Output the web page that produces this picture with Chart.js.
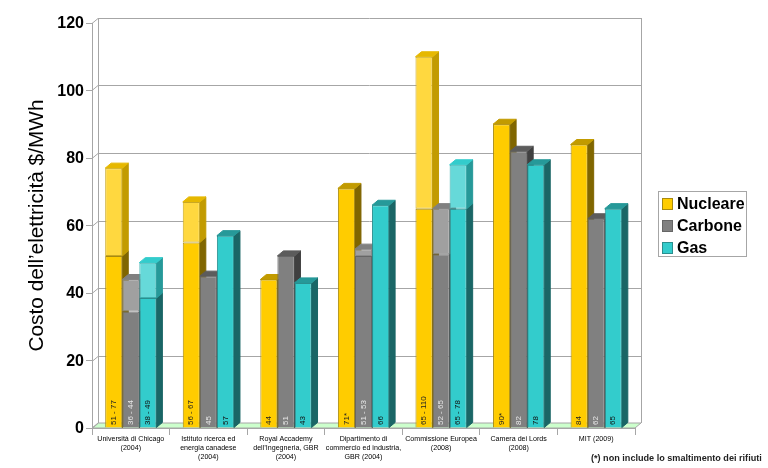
<!DOCTYPE html>
<html>
<head>
<meta charset="utf-8">
<style>
  html, body { margin: 0; padding: 0; background: #fff; }
  canvas { display: block; }
</style>
<script src="https://cdn.jsdelivr.net/npm/chart.js"></script>
</head>
<body>
<canvas id="costChart" width="768" height="468"></canvas>
<script>
var categories = [
    ['Università di Chicago', '(2004)'],
    ['Istituto ricerca ed', 'energia canadese', '(2004)'],
    ['Royal Accademy', 'dell’Ingegneria, GBR', '(2004)'],
    ['Dipartimento di', 'commercio ed industria,', 'GBR (2004)'],
    ['Commissione Europea', '(2008)'],
    ['Camera dei Lords', '(2008)'],
    ['MIT (2009)']
];
var yTicks = [0, 20, 40, 60, 80, 100, 120];

// low end and high end of each bar, as drawn
var nucleareLow = [51, 55, 44, 71, 65, 90, 84];
var nucleareHigh = [77, 67, 44, 71, 110, 90, 84];
var carboneLow = [34.5, 45, 51, 51, 51.5, 82, 62];
var carboneHigh = [44, 45, 51, 53, 65, 82, 62];
var gasLow = [38.5, 57, 43, 66, 65, 78, 65];
var gasHigh = [49, 57, 43, 66, 78, 78, 65];

// text printed inside the bars
var nucleareText = ['51 - 77', '56 - 67', '44', '71*', '65 - 110', '90*', '84'];
var carboneText = ['36 - 44', '45', '51', '51 - 53', '52 - 65', '82', '62'];
var gasText = ['38 - 49', '57', '43', '66', '65 - 78', '78', '65'];

function spread(low, high) {
    return low.map(function (v, i) { return high[i] > v ? high[i] - v : null; });
}

var DX = 6, DY = 5;
var GRID = '#a6a6a6';

function poly(ctx, pts, fill, stroke) {
    ctx.beginPath();
    ctx.moveTo(pts[0][0], pts[0][1]);
    for (var i = 1; i < pts.length; i++) ctx.lineTo(pts[i][0], pts[i][1]);
    ctx.closePath();
    if (fill) { ctx.fillStyle = fill; ctx.fill(); }
    if (stroke) { ctx.strokeStyle = stroke; ctx.lineWidth = 1; ctx.stroke(); }
}

// back wall, floor and the side and top faces of the bars
var depthPlugin = {
    id: 'depth',
    beforeDatasetsDraw: function (chart) {
        var ctx = chart.ctx, a = chart.chartArea, y = chart.scales.y;
        ctx.save();
        poly(ctx, [[a.left, a.bottom], [a.left + DX, a.bottom - DY], [a.right + DX, a.bottom - DY], [a.right, a.bottom]], '#ccffcc', GRID);
        ctx.strokeStyle = GRID;
        ctx.lineWidth = 1;
        yTicks.forEach(function (t) {
            var py = Math.round(y.getPixelForValue(t)) + 0.5;
            ctx.beginPath();
            ctx.moveTo(a.left, py);
            ctx.lineTo(a.left + DX, py - DY);
            if (t > 0) ctx.lineTo(a.right + DX, py - DY);
            ctx.stroke();
        });
        ctx.beginPath();
        ctx.moveTo(a.left + DX + 0.5, a.top - DY);
        ctx.lineTo(a.left + DX + 0.5, a.bottom - DY);
        ctx.moveTo(a.right + DX + 0.5, a.top - DY);
        ctx.lineTo(a.right + DX + 0.5, a.bottom - DY);
        ctx.stroke();

        for (var s = 0; s < 3; s++) {
            for (var j = 0; j < categories.length; j++) {
                [s, s + 3].forEach(function (d) {
                    var ds = chart.data.datasets[d];
                    if (ds.data[j] === null) return;
                    var bar = chart.getDatasetMeta(d).data[j];
                    var xr = bar.x + bar.width / 2;
                    poly(ctx, [[xr, bar.y], [xr + DX, bar.y - DY], [xr + DX, bar.base - DY], [xr, bar.base]], ds.sideColor, ds.sideColor);
                });
                var topSet = chart.data.datasets[s + 3].data[j] !== null ? s + 3 : s;
                var top = chart.getDatasetMeta(topSet).data[j];
                var l = top.x - top.width / 2, r = top.x + top.width / 2;
                poly(ctx, [[l, top.y], [l + DX, top.y - DY], [r + DX, top.y - DY], [r, top.y]], chart.data.datasets[topSet].capColor, chart.data.datasets[topSet].capColor);
            }
        }
        ctx.restore();
    },
    afterDatasetsDraw: function (chart) {
        var ctx = chart.ctx, y = chart.scales.y;
        var sets = [[0, nucleareText, '#222'], [1, carboneText, '#e8e8e8'], [2, gasText, '#111']];
        ctx.save();
        ctx.font = '8px "Liberation Sans", Arial, sans-serif';
        ctx.textAlign = 'left';
        ctx.textBaseline = 'middle';
        sets.forEach(function (set) {
            ctx.fillStyle = set[2];
            set[1].forEach(function (txt, j) {
                var bar = chart.getDatasetMeta(set[0]).data[j];
                ctx.save();
                ctx.translate(bar.x, y.getPixelForValue(0) - 3);
                ctx.rotate(-Math.PI / 2);
                ctx.fillText(txt, 0, 0);
                ctx.restore();
            });
        });
        ctx.restore();
    },
    afterDraw: function (chart) {
        var ctx = chart.ctx;
        ctx.save();
        // legend box
        ctx.strokeStyle = GRID;
        ctx.lineWidth = 1;
        ctx.strokeRect(658.5, 191.5, 88, 65);
        ctx.font = 'bold 16px "Liberation Sans", Arial, sans-serif';
        ctx.textAlign = 'left';
        ctx.textBaseline = 'alphabetic';
        for (var i = 0; i < 3; i++) {
            var ds = chart.data.datasets[i];
            ctx.fillStyle = ds.backgroundColor;
            ctx.fillRect(663, 199 + i * 22, 9, 10);
            ctx.strokeStyle = ds.borderColor;
            ctx.strokeRect(662.5, 198.5 + i * 22, 10, 11);
            ctx.fillStyle = '#000';
            ctx.fillText(ds.label, 677, 209 + i * 22);
        }
        // footnote
        ctx.font = 'bold 9.1px "Liberation Sans", Arial, sans-serif';
        ctx.fillStyle = '#222';
        ctx.fillText('(*) non include lo smaltimento dei rifiuti', 591, 461);
        ctx.restore();
    }
};

var ctx1 = document.getElementById('costChart').getContext('2d');
var costChart = new Chart(ctx1, {
    type: 'bar',
    data: {
        labels: categories,
        datasets: [
            { label: 'Nucleare', stack: 'n', data: nucleareLow, backgroundColor: '#ffcc00', borderColor: '#a88a10', sideColor: '#806600', capColor: '#c29b00' },
            { label: 'Carbone', stack: 'c', data: carboneLow, backgroundColor: '#808080', borderColor: '#666666', sideColor: '#404040', capColor: '#5c5c5c' },
            { label: 'Gas', stack: 'g', data: gasLow, backgroundColor: '#33cccc', borderColor: '#2a8f8f', sideColor: '#1a6666', capColor: '#269999' },
            { label: 'Nucleare max', stack: 'n', data: spread(nucleareLow, nucleareHigh), backgroundColor: '#ffd83f', borderColor: '#c9a825', sideColor: '#c29b00', capColor: '#e6b800', borderSkipped: false },
            { label: 'Carbone max', stack: 'c', data: spread(carboneLow, carboneHigh), backgroundColor: '#a0a0a0', borderColor: '#8a8a8a', sideColor: '#606060', capColor: '#808080', borderSkipped: false },
            { label: 'Gas max', stack: 'g', data: spread(gasLow, gasHigh), backgroundColor: '#66d9d9', borderColor: '#3fb0b0', sideColor: '#269999', capColor: '#33cccc', borderSkipped: false }
        ]
    },
    options: {
        responsive: false,
        animation: false,
        devicePixelRatio: 1,
        layout: { padding: { top: 23, right: 133, left: 0, bottom: 0 } },
        datasets: { bar: { barPercentage: 1, categoryPercentage: 0.66, borderWidth: 1 } },
        plugins: {
            legend: { display: false },
            tooltip: { enabled: false }
        },
        scales: {
            x: {
                stacked: true,
                afterFit: function (scale) { scale.height = 40; },
                grid: { drawOnChartArea: false, color: GRID, tickLength: 7 },
                border: { color: GRID },
                ticks: {
                    color: '#000',
                    autoSkip: false,
                    maxRotation: 0,
                    padding: -1,
                    font: { family: '"Liberation Sans", Arial, sans-serif', size: 7.1, lineHeight: 1.28 }
                }
            },
            y: {
                stacked: true,
                min: 0,
                max: 120,
                afterFit: function (scale) { scale.width = 92; },
                afterBuildTicks: function (scale) {
                    scale.ticks = yTicks.map(function (v) { return { value: v }; });
                },
                grid: { drawOnChartArea: false, color: GRID, tickLength: 6 },
                border: { color: GRID },
                title: {
                    display: true,
                    text: 'Costo dell’elettricità $/MWh',
                    color: '#000',
                    padding: { top: 25, bottom: 0 },
                    font: { family: '"Liberation Sans", Arial, sans-serif', size: 20.8 }
                },
                ticks: {
                    color: '#000',
                    padding: 2,
                    labelOffset: 1,
                    font: { family: '"Liberation Sans", Arial, sans-serif', size: 16, weight: 'bold' }
                }
            }
        }
    },
    plugins: [depthPlugin]
});
</script>
</body>
</html>
